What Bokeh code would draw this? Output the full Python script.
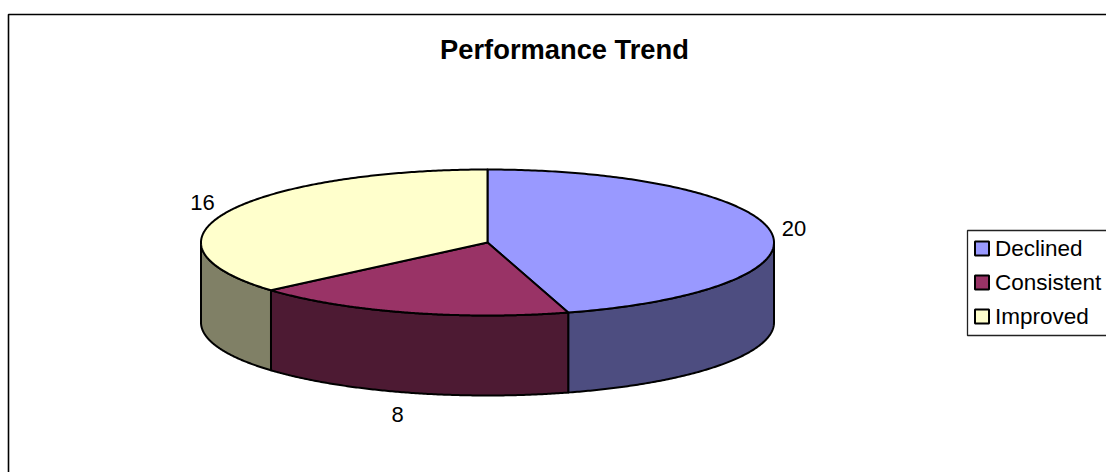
import numpy as np
from bokeh.plotting import figure
from bokeh.embed import file_html
from bokeh.resources import INLINE
from bokeh.models import Range1d
from bokeh.core.properties import value

categories = ["Declined", "Consistent", "Improved"]
values = [20, 8, 16]
top_colors = ["#9999FF", "#993366", "#FFFFCC"]
side_colors = ["#4D4D80", "#4D1A33", "#808066"]
label_text = ["20", "8", "16"]
label_pos = [(793.5, 227.5), (397, 414), (202, 201.5)]
title = "Performance Trend"

W, H = 1106, 472
CX, CY, RX, RY, DEPTH = 487, 242, 286.5, 73, 80
FONT = "Liberation Sans"

p = figure(width=W, height=H, output_backend="svg", toolbar_location=None,
           x_range=Range1d(0, W), y_range=Range1d(H, 0),
           min_border=0, outline_line_color=None)
p.axis.visible = False
p.grid.visible = False

p.multi_line([[8, 8, 1110]], [[476, 14, 14]], line_color="#000000", line_width=1.6)


def pt(theta):
    return CX + RX * np.sin(theta), CY - RY * np.cos(theta)


edges = np.concatenate([[0], np.cumsum(values)]) / sum(values) * 2 * np.pi

for i in range(len(values)):
    a = max(edges[i], np.pi / 2)
    b = min(edges[i + 1], 3 * np.pi / 2)
    if b <= a:
        continue
    t = np.linspace(a, b, 160)
    x, y = pt(t)
    xs = np.concatenate([x, x[::-1]])
    ys = np.concatenate([y, y[::-1] + DEPTH])
    p.patch(xs, ys, fill_color=side_colors[i], line_color="#000000", line_width=2, line_join="round")

for i in range(len(values)):
    t = np.linspace(edges[i], edges[i + 1], 240)
    x, y = pt(t)
    xs = np.concatenate([[CX], x])
    ys = np.concatenate([[CY], y])
    p.patch(xs, ys, fill_color=top_colors[i], line_color="#000000", line_width=2, line_join="round")

p.text([q[0] for q in label_pos], [q[1] for q in label_pos], text=label_text,
       text_font=value(FONT), text_font_size="22px", text_color="#000000",
       text_align="center", text_baseline="middle")

p.text([564], [48.5], text=[title], text_font=value(FONT), text_font_size="27.3px",
       text_font_style="bold", text_color="#000000", text_align="center", text_baseline="middle")

p.multi_line([[1110, 967, 967, 1110]], [[230, 230, 335, 335]], line_color="#222222", line_width=1.3)
leg_y = [248, 282, 316]
p.rect([981.5] * 3, leg_y, width=[14] * 3, height=[14] * 3, fill_color=top_colors,
       line_color="#000000", line_width=2)
p.text([994.5] * 3, leg_y, text=categories, text_font=value(FONT), text_font_size="22.5px",
       text_color="#000000", text_align="left", text_baseline="middle")

open("out.html", "w").write(file_html(p, INLINE))
